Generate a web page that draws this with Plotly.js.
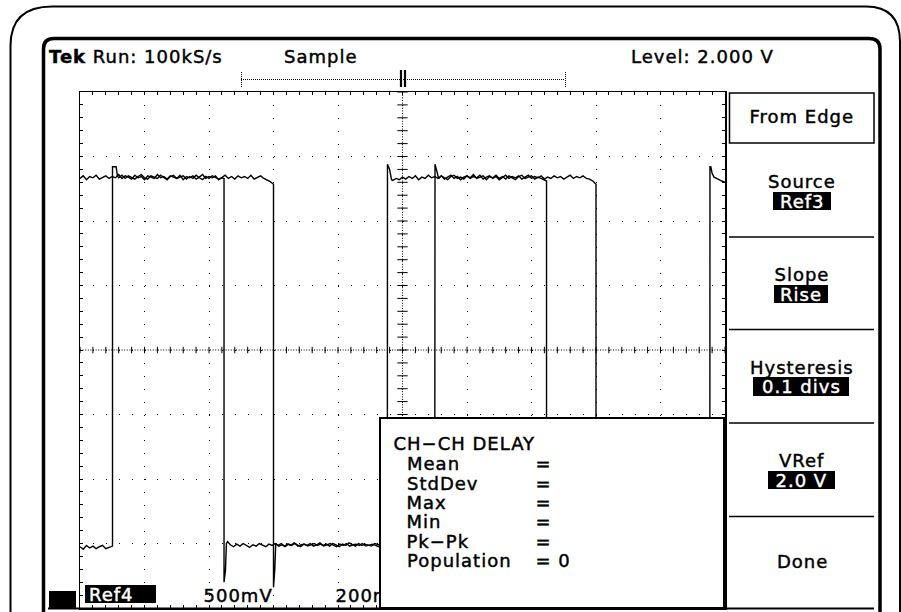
<!DOCTYPE html>
<html><head><meta charset="utf-8">
<script src="https://cdn.plot.ly/plotly-3.0.1.min.js"></script>
<style>
html,body{margin:0;padding:0;background:#fff;}
#chart{width:901px;height:612px;}
#chart .annotation text{letter-spacing:1px;}
</style></head><body><div id="chart"></div>
<script>
// ---- Waveform data (x in divisions, y in divisions) ----
const ch1_t = [
 0,0.05,0.1,0.15,0.2,0.25,0.3,0.35,0.4,0.45,
 0.5,0.55,0.6,0.65,0.7,0.75,0.8,0.85,0.9,0.95,
 1.0,1.05,1.1,1.15,1.2,1.25,1.3,1.35,1.4,1.45,
 1.5,1.55,1.6,1.65,1.7,1.75,1.8,1.85,1.9,1.95,
 2.0,2.05,2.1,2.15,2.2,2.25,2.3,2.35,2.4,2.45,
 2.5,2.55,2.6,2.65,2.7,2.75,2.8,2.85,2.9,2.95,
 3.0,3.0,3.02,3.035,
 3.07,3.12,3.17,3.22,3.27,3.32,3.37,3.42,3.47,3.52,
 3.57,3.62,3.67,3.72,3.77,3.82,3.87,3.92,3.97,4.02,
 4.07,4.12,4.17,4.22,4.27,4.32,4.37,4.42,4.47,4.52,
 4.57,4.62,4.67,4.72,4.765,
 4.767,4.80,4.83,
 4.85,4.9,4.95,5.0,5.05,5.1,5.15,5.2,5.25,5.3,
 5.35,5.4,5.45,5.5,5.55,5.6,5.65,5.7,5.75,5.8,
 5.85,5.9,5.95,6.0,6.05,6.1,6.15,6.2,6.25,6.3,
 6.35,6.4,6.45,6.5,6.55,6.6,6.65,6.7,6.75,6.8,
 6.85,6.9,6.95,7.0,7.05,7.1,7.15,7.2,7.25,7.3,
 7.35,7.4,7.45,7.5,7.55,7.6,7.65,7.7,7.75,7.8,
 7.85,7.9,7.95,7.98,
 8.0,8.0,8.02,8.035,
 8.1,8.2,8.3,8.4,8.5,8.6,8.7,8.8,8.9,9.0,
 9.1,9.2,9.3,9.4,9.5,9.6,9.7,9.765,
 9.767,9.78,9.80,9.83,9.87,9.90,9.95,10.0
];
const ch1_v = [
 2.66,2.70,2.64,2.69,2.67,2.71,2.65,2.68,2.70,2.66,
 2.69,2.67,2.72,2.66,2.70,2.68,2.65,2.71,2.67,2.69,
 2.64,2.70,2.68,2.66,2.72,2.67,2.69,2.65,2.70,2.68,
 2.66,2.71,2.64,2.69,2.67,2.70,2.65,2.68,2.72,2.66,
 2.69,2.67,2.70,2.64,2.68,2.71,2.66,2.69,2.65,2.70,
 2.67,2.69,2.66,2.71,2.65,2.68,2.70,2.66,2.64,2.61,
 2.57,-3.68,-3.40,-3.00,
 -3.03,-3.00,-3.04,-3.01,-3.03,-2.99,-3.02,-3.05,-3.01,-3.03,
 -3.00,-3.04,-3.02,-2.99,-3.03,-3.01,-3.04,-3.00,-3.02,-3.05,
 -3.01,-3.03,-2.99,-3.02,-3.04,-3.00,-3.03,-3.01,-3.02,-3.04,
 -3.00,-3.02,-3.03,-3.01,-3.02,
 2.88,2.80,2.64,
 2.63,2.66,2.64,2.68,2.65,2.69,2.66,2.70,2.64,2.68,
 2.66,2.71,2.67,2.69,2.66,2.70,2.65,2.68,2.71,2.66,
 2.69,2.64,2.68,2.70,2.66,2.69,2.67,2.71,2.65,2.68,
 2.70,2.66,2.69,2.64,2.68,2.71,2.66,2.69,2.67,2.70,
 2.65,2.68,2.71,2.66,2.69,2.67,2.70,2.65,2.68,2.66,
 2.70,2.67,2.69,2.65,2.68,2.71,2.66,2.69,2.67,2.70,
 2.66,2.65,2.62,2.59,
 2.57,-3.68,-3.40,-3.00,
 -3.02,-3.04,-3.00,-3.03,-3.01,-3.04,-3.00,-3.02,-3.03,-3.01,
 -3.04,-3.00,-3.02,-3.03,-3.01,-2.99,-3.03,-3.02,
 2.84,2.84,2.74,2.68,2.66,2.64,2.62,2.60
];
const ch2_t = [
 0,0.05,0.1,0.15,0.2,0.25,0.3,0.35,0.4,0.45,0.5,
 0.504,0.504,0.56,0.58,
 0.6,0.65,0.7,0.75,0.8,0.85,0.9,0.95,1.0,1.05,
 1.1,1.15,1.2,1.25,1.3,1.35,1.4,1.45,1.5,1.55,
 1.6,1.65,1.7,1.75,1.8,1.85,1.9,1.95,2.0,2.05,
 2.1,2.15,2.2,2.23,
 2.233,2.233,2.255,2.27,2.29,
 2.33,2.38,2.43,2.48,2.53,2.58,2.63,2.68,2.73,2.78,
 2.83,2.88,2.93,2.98,3.03,3.08,3.13,3.18,3.23,3.28,
 3.33,3.38,3.43,3.48,3.53,3.58,3.63,3.68,3.73,3.78,
 3.83,3.88,3.93,3.98,4.03,4.08,4.13,4.18,4.23,4.28,
 4.33,4.38,4.43,4.48,4.53,4.58,4.63,
 4.7,4.8,4.9,5.0,5.1,5.2,5.3,5.4,
 5.5,
 5.504,5.53,5.56,
 5.6,5.65,5.7,5.75,5.8,5.85,5.9,5.95,6.0,6.05,
 6.1,6.15,6.2,6.25,6.3,6.35,6.4,6.45,6.5,6.55,
 6.6,6.65,6.7,6.75,6.8,6.85,6.9,6.95,7.0,7.05,
 7.1,7.15,7.2,7.225,
 7.233,7.233,7.255,7.27,7.29,
 7.4,7.5,7.6,7.7,7.8,7.9,8.0,8.1,8.2,8.3,
 8.4,8.5,8.6,8.7,8.8,8.9,9.0,9.1,9.2,9.3,
 9.4,9.5,9.6,9.7,9.8,9.9,10.0
];
const ch2_v = [
 -3.05,-3.09,-3.03,-3.07,-3.04,-3.08,-3.05,-3.03,-3.08,-3.06,-3.04,
 -3.04,2.84,2.84,2.70,
 2.67,2.71,2.66,2.70,2.68,2.65,2.69,2.72,2.67,2.65,
 2.70,2.68,2.66,2.71,2.67,2.64,2.69,2.71,2.66,2.68,
 2.70,2.65,2.69,2.66,2.71,2.67,2.64,2.69,2.66,2.70,
 2.68,2.65,2.67,2.66,
 2.66,-3.60,-3.42,-3.00,-2.97,
 -3.02,-3.05,-3.01,-3.04,-3.00,-3.03,-3.06,-3.02,-3.04,-3.00,
 -3.03,-3.05,-3.01,-3.03,-3.00,-3.04,-3.02,-3.05,-3.01,-3.03,
 -3.00,-3.04,-3.02,-3.01,-3.04,-3.02,-3.00,-3.03,-3.01,-3.04,
 -3.02,-3.00,-3.03,-3.05,-3.01,-3.03,-3.00,-3.04,-3.02,-3.01,
 -3.03,-3.00,-3.04,-3.02,-3.01,-3.03,-3.05,
 -3.01,-3.02,-3.04,-3.00,-3.02,-3.03,-3.01,-3.04,
 -3.02,
 2.88,2.78,2.66,
 2.70,2.67,2.64,2.69,2.71,2.66,2.68,2.65,2.70,2.67,
 2.72,2.66,2.68,2.70,2.64,2.69,2.67,2.71,2.66,2.69,
 2.65,2.70,2.67,2.64,2.69,2.71,2.66,2.68,2.70,2.65,
 2.68,2.66,2.64,2.62,
 2.62,-3.60,-3.42,-3.00,-2.97,
 -3.03,-3.01,-3.04,-3.00,-3.02,-3.05,-3.01,-3.03,-3.00,-3.04,
 -3.02,-3.01,-3.03,-3.05,-3.01,-3.02,-3.04,-3.00,-3.03,-3.02,
 -3.01,-3.04,-3.02,-3.00,-3.03,-3.01,-3.02
];

// ---- Screen texts ----
const statusLeft = '<b>Tek</b> Run: 100kS/s';
const statusMode = 'Sample';
const statusLevel = 'Level: 2.000 V';
const menuTitle = 'From Edge';
const menuLabels = ['Source','Slope','Hysteresis','VRef'];
const menuValues = ['Ref3','Rise','0.1 divs','2.0 V'];
const menuDone = 'Done';
const chLabel = 'Ref4';
const vScale = '500mV';
const hScale = '200ms';
const measTitle = 'CH\u2212CH DELAY';
const measLabels = ['Mean','StdDev','Max','Min','Pk\u2212Pk','Population'];
const measValues = ['','','','','','0'];

// ---- Geometry (pixels) ----
const W=901, H=612, PL=80, PR=725, PT=92, PB=608;
const FONT = 'DejaVu Sans';
const K = '#000';
const LS = 1; // letter spacing (px)

function pline(x0,y0,x1,y1,w,dash){return {type:'line',xref:'x2',yref:'y2',x0:x0,y0:y0,x1:x1,y1:y1,line:{color:K,width:w,dash:dash||'solid'},layer:'above'};}
function prect(x0,y0,x1,y1,fill,w){return {type:'rect',xref:'x2',yref:'y2',x0:x0,y0:y0,x1:x1,y1:y1,fillcolor:fill,line:{color:K,width:w},layer:'above'};}
function ppath(d,w){return {type:'path',xref:'x2',yref:'y2',path:d,fillcolor:'rgba(0,0,0,0)',line:{color:K,width:w},layer:'above'};}
function txt(s,x,y,opt){
  const a = Object.assign({xref:'x2',yref:'y2',x:x,y:y,text:s,showarrow:false,xanchor:'center',yanchor:'middle',font:{family:FONT,size:18,color:K}},opt||{});
  if(a.xanchor==='left'){ const n = s.replace(/<[^>]+>/g,'').length; a.x = x + n*LS/2 - 1.5; }
  return a;
}

const shapes = [];
// center crosshair (data coords)
shapes.push({type:'line',xref:'x',yref:'y',x0:0,x1:10,y0:0,y1:0,line:{color:K,width:1,dash:'1px,1.6px'},layer:'below'});
shapes.push({type:'line',xref:'x',yref:'y',x0:5,x1:5,y0:-4,y1:4,line:{color:K,width:1,dash:'1px,1.6px'},layer:'below'});
for(let k=0;k<=50;k++){const x=k*0.2;shapes.push({type:'line',xref:'x',yref:'y',x0:x,x1:x,y0:-0.05,y1:0.05,line:{color:K,width:1},layer:'below'});}
for(let k=0;k<=40;k++){const y=-4+k*0.2;shapes.push({type:'line',xref:'x',yref:'y',x0:4.92,x1:5.08,y0:y,y1:y,line:{color:K,width:1},layer:'below'});}

// bezels
shapes.push(ppath('M10.5,612 L10.5,46 Q10.5,6.5 52,6.5 L866,6.5 Q900,6.5 900,42 L900,612',2));
shapes.push(ppath('M43.5,612 L43.5,49 Q43.5,38.5 54,38.5 L869,38.5 Q880,38.5 880,49 L880,612',3.5));
shapes.push(pline(48,608.5,874,608.5,2));
shapes.push(prect(49,591,76,609,K,0));
// trigger position bar
shapes.push(pline(241,79.5,565,79.5,1,'1px,1px'));
shapes.push(pline(241.5,72,241.5,87,1,'1px,1px'));
shapes.push(pline(565.5,72,565.5,87,1,'1px,1px'));
shapes.push(pline(401,70,401,87,2.2));
shapes.push(pline(405,70,405,87,2.2));
// menu
shapes.push(prect(729.5,93,874,143,'rgba(0,0,0,0)',1.5));
[237,329.5,423,516.5].forEach(function(y){shapes.push(pline(729,y,874,y,1.5));});
// inverted value boxes
const valBoxes = [[773,192,831,210],[774,285,828,303],[753,377,849,396],[768,471,835,489]];
valBoxes.forEach(function(b){shapes.push(prect(b[0],b[1],b[2],b[3],K,0));});
shapes.push(prect(85,585,156,603,K,0));

const annotations = [];
annotations.push(txt(statusLeft,48,56.5,{xanchor:'left'}));
annotations.push(txt(statusMode,283,56.5,{xanchor:'left'}));
annotations.push(txt(statusLevel,630,56.5,{xanchor:'left'}));
annotations.push(txt(menuTitle,802,116));
const labelY=[181,274,367,460], valY=[201,294,386.5,480];
menuLabels.forEach(function(s,i){annotations.push(txt(s,802,labelY[i]));});
menuValues.forEach(function(s,i){const b=valBoxes[i];annotations.push(txt(s,(b[0]+b[2])/2,valY[i],{font:{family:FONT,size:18,color:'#fff'}}));});
annotations.push(txt(menuDone,802,561.5));
annotations.push(txt(chLabel,88,594,{xanchor:'left',font:{family:FONT,size:18,color:'#fff'}}));
annotations.push(txt(vScale,203,595,{xanchor:'left'}));
annotations.push(txt(hScale,335,595,{xanchor:'left'}));
// measurement readout box (covers what lies beneath)
annotations.push({xref:'x2',yref:'y2',x:378.5,y:416.5,xanchor:'left',yanchor:'top',text:' ',showarrow:false,width:342,height:188,bgcolor:'#fff',bordercolor:K,borderwidth:2,borderpad:0});
annotations.push(txt(measTitle,393,443.5,{xanchor:'left'}));
const measY=[463.5,483,502.5,521.5,541,560.5];
measLabels.forEach(function(s,i){
  annotations.push(txt(s,406,measY[i],{xanchor:'left'}));
  annotations.push(txt(('= '+measValues[i]).trim(),535,measY[i],{xanchor:'left'}));
});

const ax = {showline:true,linecolor:K,linewidth:1.5,mirror:'allticks',ticks:'inside',ticklen:3,tickwidth:1,tickcolor:K,
  showticklabels:false,showgrid:true,gridcolor:K,gridwidth:1,griddash:'1px,11.9px',zeroline:false,fixedrange:true,
  minor:{dtick:0.2,tick0:0,ticks:'inside',ticklen:3,tickwidth:1,tickcolor:K,showgrid:false}};

const layout = {
  width:W,height:H,margin:{l:0,r:0,t:0,b:0,pad:0},
  paper_bgcolor:'#fff',plot_bgcolor:'rgba(0,0,0,0)',showlegend:false,hovermode:false,
  font:{family:FONT,size:18,color:K},
  xaxis:Object.assign({},ax,{domain:[PL/W,PR/W],range:[0,10],dtick:1,tick0:0,anchor:'y'}),
  yaxis:Object.assign({},ax,{domain:[(H-PB)/H,(H-PT)/H],range:[-4,4],dtick:1,tick0:0,anchor:'x'}),
  xaxis2:{domain:[0,1],range:[0,W],visible:false,anchor:'y2',fixedrange:true},
  yaxis2:{domain:[0,1],range:[H,0],visible:false,anchor:'x2',fixedrange:true},
  shapes:shapes,annotations:annotations
};

const traces = [
  {type:'scatter',mode:'lines',x:ch1_t,y:ch1_v,line:{color:K,width:1.4},hoverinfo:'skip',name:'Ref3'},
  {type:'scatter',mode:'lines',x:ch2_t,y:ch2_v,line:{color:K,width:1.4},hoverinfo:'skip',name:'Ref4'},
  {type:'scatter',mode:'lines',x:[],y:[],xaxis:'x2',yaxis:'y2',hoverinfo:'skip'}
];
Plotly.newPlot('chart',traces,layout,{staticPlot:true,displayModeBar:false}).then(function(gd){
  // heavier glyph strokes, like the instrument's screen font
  gd.querySelectorAll('.annotation-text').forEach(function(t){
    const f = t.style.fill || '#000';
    t.style.stroke = f; t.style.strokeWidth = '0.45px';
  });
});
</script></body></html>
